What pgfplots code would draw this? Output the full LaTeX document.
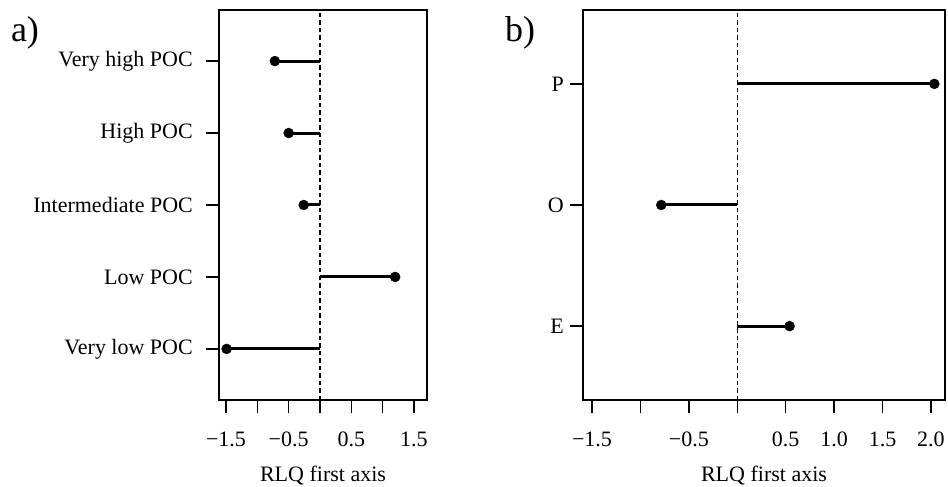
\documentclass[border=0pt]{standalone}
\usepackage{fontspec}
\setmainfont{Liberation Serif}
\usepackage{pgfplots}
\pgfplotsset{compat=1.18}
\begin{document}
\fontsize{22bp}{26bp}\selectfont
\begin{tikzpicture}
\path[use as bounding box] (-219bp,-87bp) rectangle (729bp,400bp);
\pgfplotsset{
  rlq/.style={
    scale only axis, height=390bp,
    axis line style={line width=1.3bp},
    every tick/.style={line width=1.3bp, black},
    major tick length=13bp, tick align=outside,
    xtick pos=left, ytick pos=left,
    tick label style={font=\fontsize{22bp}{26bp}\selectfont, inner sep=0pt},
    xticklabel style={yshift=-19bp},
    xlabel={RLQ first axis},
    xlabel style={at={(axis description cs:0.5,0)}, anchor=north, yshift=-66bp, inner sep=0pt, font=\fontsize{22bp}{26bp}\selectfont},
    clip=false,
  },
  seg/.style={black, line width=3bp, no marks},
  dots/.style={black, only marks, mark=*, mark size=5bp},
  zero/.style={black, line width=1.3bp, dash pattern=on 4.5bp off 3bp, no marks},
}
\begin{axis}[rlq, name=a, width=208bp,
  xmin=-1.612, xmax=1.708, ymin=0.29, ymax=5.71,
  xtick={-1.5,-1,-0.5,0,0.5,1,1.5},
  xticklabels={−1.5,,−0.5,,0.5,,1.5},
  ytick={1,2,3,4,5},
  yticklabels={Very low POC,Low POC,Intermediate POC,High POC,Very high POC},
  yticklabel style={xshift=-13bp},
]
\addplot[zero] coordinates {(0,0.29) (0,5.71)};
\addplot[seg] coordinates {(0,5) (-0.72,5)};
\addplot[seg] coordinates {(0,4) (-0.50,4)};
\addplot[seg] coordinates {(0,3) (-0.26,3)};
\addplot[seg] coordinates {(0,2) (1.20,2)};
\addplot[seg] coordinates {(0,1) (-1.49,1)};
\addplot[dots] coordinates {(-0.72,5) (-0.50,4) (-0.26,3) (1.20,2) (-1.49,1)};
\end{axis}
\begin{axis}[rlq, name=b, at={(364bp,0)}, width=362bp,
  xmin=-1.593, xmax=2.145, ymin=0.39, ymax=3.61,
  xtick={-1.5,-1,-0.5,0,0.5,1,1.5,2},
  xticklabels={−1.5,,−0.5,,0.5,1.0,1.5,2.0},
  ytick={1,2,3},
  yticklabels={E,O,P},
  yticklabel style={xshift=-6bp},
]
\addplot[zero] coordinates {(0,0.39) (0,3.61)};
\addplot[seg] coordinates {(0,3) (2.035,3)};
\addplot[seg] coordinates {(0,2) (-0.785,2)};
\addplot[seg] coordinates {(0,1) (0.54,1)};
\addplot[dots] coordinates {(2.035,3) (-0.785,2) (0.54,1)};
\end{axis}
\node[font=\fontsize{36bp}{40bp}\selectfont, xshift=-194bp, yshift=-23bp] at (a.north west) {a)};
\node[font=\fontsize{36bp}{40bp}\selectfont, xshift=-63bp, yshift=-23bp] at (b.north west) {b)};
\end{tikzpicture}
\end{document}
